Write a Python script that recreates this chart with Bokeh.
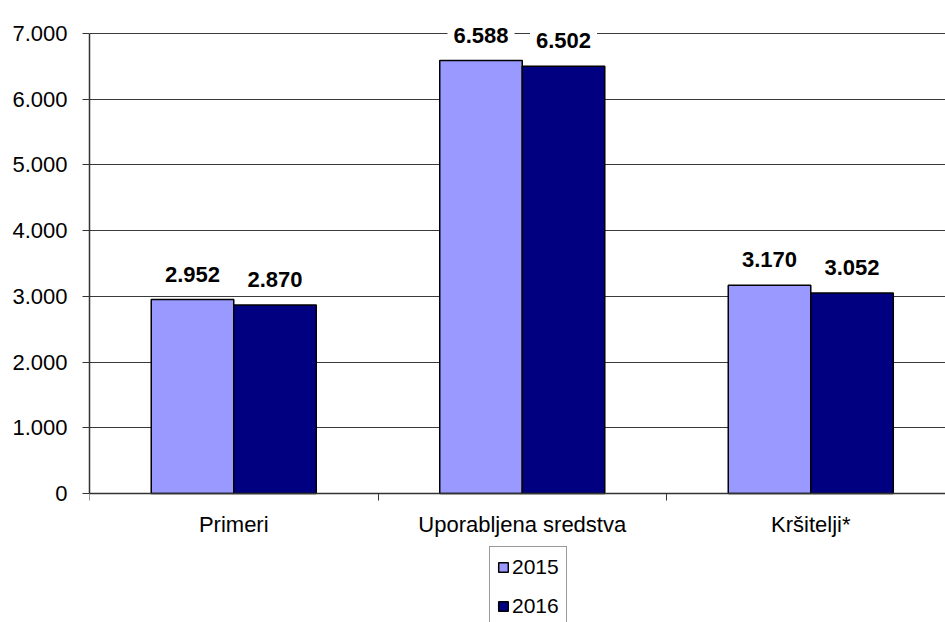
from bokeh.plotting import figure
from bokeh.models import (ColumnDataSource, Range1d, FixedTicker, Legend, LegendItem)
from bokeh.core.properties import value
from bokeh.embed import file_html
from bokeh.resources import INLINE

# ---- data ----
categories = ["Primeri", "Uporabljena sredstva", "Kršitelji*"]
series_names = ["2015", "2016"]
values_2015 = [2952, 6588, 3170]
values_2016 = [2870, 6502, 3052]
y_ticks = [0, 1000, 2000, 3000, 4000, 5000, 6000, 7000]
y_tick_labels = ["0", "1.000", "2.000", "3.000", "4.000", "5.000", "6.000", "7.000"]

# ---- style ----
colors = ["#9999FF", "#000080"]
FONT = "Liberation Sans"
bar_w = 0.286
x_end = 2.967
y_max = 7000
y_start = -1963
y_end = 7502

def fmt(v):
    return f"{v:,}".replace(",", ".")

centers = [i + 0.5 for i in range(len(categories))]

p = figure(width=945, height=622, output_backend="svg", toolbar_location=None,
           x_range=Range1d(0, x_end), y_range=Range1d(y_start, y_end),
           min_border_left=89, min_border_right=0, min_border_top=0, min_border_bottom=0)
p.outline_line_color = None
p.background_fill_color = "white"
p.border_fill_color = "white"

p.ygrid.grid_line_color = "#3a3a3a"
p.ygrid.grid_line_width = 1
p.ygrid.ticker = FixedTicker(ticks=y_ticks)
p.xgrid.grid_line_color = None

renderers = []
for k, (vals, col) in enumerate(zip([values_2015, values_2016], colors)):
    xs = [c + (k - 0.5) * bar_w for c in centers]
    src = ColumnDataSource(dict(x=xs, top=vals, lab=[fmt(v) for v in vals]))
    r = p.vbar(x="x", top="top", width=bar_w, bottom=0, source=src,
               fill_color=col, line_color="black", line_width=1.5)
    renderers.append(r)
    p.text(x="x", y="top", text="lab", source=src, y_offset=-12,
           text_align="center", text_baseline="bottom",
           text_font=value(FONT), text_font_style="bold", text_font_size="22px",
           text_color="black", background_fill_color="white", padding=6)

# y axis
ya = p.yaxis[0]
ya.ticker = FixedTicker(ticks=y_ticks)
ya.bounds = (0, y_max)
ya.major_label_overrides = {t: l for t, l in zip(y_ticks, y_tick_labels)}
ya.major_label_text_font = FONT
ya.major_label_text_font_size = "22px"
ya.major_label_text_color = "black"
ya.axis_line_color = "#333333"
ya.axis_line_width = 1.5
ya.major_tick_line_color = "#333333"
ya.major_tick_out = 7
ya.major_tick_in = 0
ya.minor_tick_line_color = None
ya.major_label_standoff = 15

# x axis, fixed at y = 0
xa = p.xaxis[0]
xa.fixed_location = 0
xa.ticker = FixedTicker(ticks=centers, minor_ticks=[i for i in range(len(categories) + 1)])
xa.major_label_overrides = {c: n for c, n in zip(centers, categories)}
xa.major_label_text_font = FONT
xa.major_label_text_font_size = "22px"
xa.major_label_text_color = "black"
xa.axis_line_color = "#333333"
xa.axis_line_width = 1.5
xa.major_tick_line_color = None
xa.minor_tick_line_color = "#333333"
xa.minor_tick_out = 7
xa.minor_tick_in = 0
xa.major_label_standoff = 12

legend = Legend(items=[LegendItem(label=n, renderers=[r]) for n, r in zip(series_names, renderers)],
                location=(400, -4), orientation="vertical")
legend.glyph_width = 12
legend.glyph_height = 12
legend.label_text_font = FONT
legend.label_text_font_size = "21px"
legend.label_text_color = "black"
legend.label_standoff = 3
legend.label_height = 25
legend.spacing = 14
legend.padding = 7
legend.margin = 0
legend.border_line_color = "#333333"
legend.border_line_width = 1
legend.background_fill_color = "white"
legend.background_fill_alpha = 1
p.add_layout(legend, "center")

open("out.html", "w").write(file_html(p, INLINE))
